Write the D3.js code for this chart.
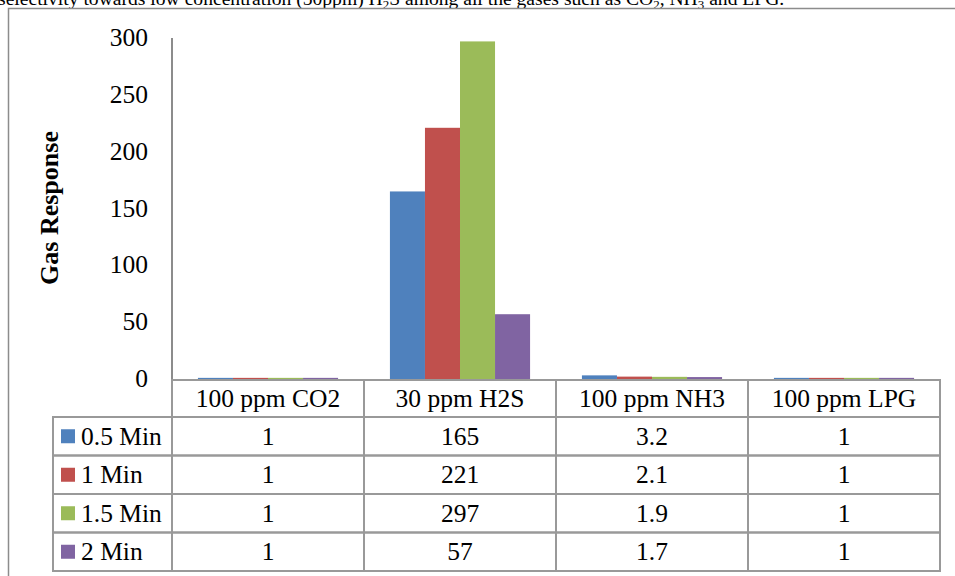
<!DOCTYPE html>
<html>
<head>
<meta charset="utf-8">
<script src="https://cdn.jsdelivr.net/npm/d3@7"></script>
<style>
  html, body { margin: 0; padding: 0; background: #fff; }
  svg { display: block; }
  text { font-family: "Liberation Serif", "Times New Roman", serif; fill: #000; }
</style>
</head>
<body>
<svg id="chart" width="955" height="576"></svg>
<script>
// Gas response of the sensor at each exposure time
const categories = ["100 ppm CO2", "30 ppm H2S", "100 ppm NH3", "100 ppm LPG"];
const seriesNames = ["0.5 Min", "1 Min", "1.5 Min", "2 Min"];
const seriesColors = ["#4F81BD", "#C0504D", "#9BBB59", "#8064A2"];
const values05 = [1, 165, 3.2, 1];
const values1 = [1, 221, 2.1, 1];
const values15 = [1, 297, 1.9, 1];
const values2 = [1, 57, 1.7, 1];
const yTicks = [0, 50, 100, 150, 200, 250, 300];

const series = [values05, values1, values15, values2].map((vals, i) => ({
  name: seriesNames[i], color: seriesColors[i], values: vals
}));

const svg = d3.select("#chart");
const fontSize = "25.5px";

// caption line running above the chart frame
const cap = svg.append("text").attr("x", -2).attr("y", 5).style("font-size", "19.6px");
cap.append("tspan").text("selectivity towards low concentration (50ppm) H");
cap.append("tspan").attr("dy", 4).style("font-size", "13px").text("2");
cap.append("tspan").attr("dy", -4).text("S among all the gases such as CO");
cap.append("tspan").attr("dy", 4).style("font-size", "13px").text("2");
cap.append("tspan").attr("dy", -4).text(", NH");
cap.append("tspan").attr("dy", 4).style("font-size", "13px").text("3");
cap.append("tspan").attr("dy", -4).text(" and LPG.");

// chart frame
svg.append("rect").attr("x", 8.5).attr("y", 8.5).attr("width", 960).attr("height", 600)
  .attr("fill", "none").attr("stroke", "#8c8c8c").attr("stroke-width", 1.5);

const plotLeft = 172, plotRight = 940;
const plotTop = 38, plotBottom = 379;

const x0 = d3.scaleBand().domain(categories).range([plotLeft, plotRight]);
const x1 = d3.scaleBand().domain(seriesNames).range([0, x0.bandwidth()]).paddingOuter(0.74).paddingInner(0);
const y = d3.scaleLinear().domain([0, 300]).range([plotBottom, plotTop]);

// y axis: labels only, with a plain axis line
const yAxis = d3.axisLeft(y).tickValues(yTicks).tickSize(0).tickPadding(24);
const yg = svg.append("g").attr("transform", `translate(${plotLeft},0)`).call(yAxis);
yg.select(".domain").remove();
yg.selectAll("text")
  .style("font-family", "'Liberation Serif', 'Times New Roman', serif")
  .style("font-size", fontSize).attr("fill", "#000").attr("dy", "0.3em");
svg.append("line").attr("x1", plotLeft).attr("x2", plotLeft)
  .attr("y1", plotTop).attr("y2", plotBottom + 1)
  .attr("stroke", "#8c8c8c").attr("stroke-width", 2);

svg.append("text")
  .attr("transform", `translate(58,208) rotate(-90)`)
  .attr("text-anchor", "middle")
  .style("font-size", "26px").style("font-weight", "bold")
  .text("Gas Response");

// bars
const groups = svg.append("g").selectAll("g").data(categories).join("g")
  .attr("transform", d => `translate(${x0(d)},0)`);
groups.selectAll("rect")
  .data((d, ci) => series.map(s => ({ name: s.name, color: s.color, v: s.values[ci] })))
  .join("rect")
  .attr("x", d => x1(d.name))
  .attr("width", x1.bandwidth())
  .attr("y", d => y(d.v))
  .attr("height", d => y(0) - y(d.v))
  .attr("fill", d => d.color);

// data table below the axis
const headerH = 37;
const rowH = 38.5;
const tableTop = plotBottom + 1;
const legendLeft = 53;
const gridColor = "#999";
const table = svg.append("g");

// header row
categories.forEach(c => {
  table.append("rect").attr("x", x0(c)).attr("y", tableTop)
    .attr("width", x0.bandwidth()).attr("height", headerH)
    .attr("fill", "none").attr("stroke", gridColor).attr("stroke-width", 2);
  table.append("text").attr("x", x0(c) + x0.bandwidth() / 2).attr("y", tableTop + headerH / 2 + 8.5)
    .attr("text-anchor", "middle").style("font-size", fontSize).text(c);
});

// one row per series: legend key + values
series.forEach((s, i) => {
  const ry = tableTop + headerH + rowH * i;
  table.append("rect").attr("x", legendLeft).attr("y", ry)
    .attr("width", plotLeft - legendLeft).attr("height", rowH)
    .attr("fill", "none").attr("stroke", gridColor).attr("stroke-width", 2);
  table.append("rect").attr("x", legendLeft + 8).attr("y", ry + rowH / 2 - 7)
    .attr("width", 14).attr("height", 14).attr("fill", s.color);
  table.append("text").attr("x", legendLeft + 28).attr("y", ry + rowH / 2 + 8.5)
    .style("font-size", fontSize).text(s.name);
  categories.forEach((c, ci) => {
    table.append("rect").attr("x", x0(c)).attr("y", ry)
      .attr("width", x0.bandwidth()).attr("height", rowH)
      .attr("fill", "none").attr("stroke", gridColor).attr("stroke-width", 2);
    table.append("text").attr("x", x0(c) + x0.bandwidth() / 2).attr("y", ry + rowH / 2 + 8.5)
      .attr("text-anchor", "middle").style("font-size", fontSize).text(s.values[ci]);
  });
});
</script>
</body>
</html>
